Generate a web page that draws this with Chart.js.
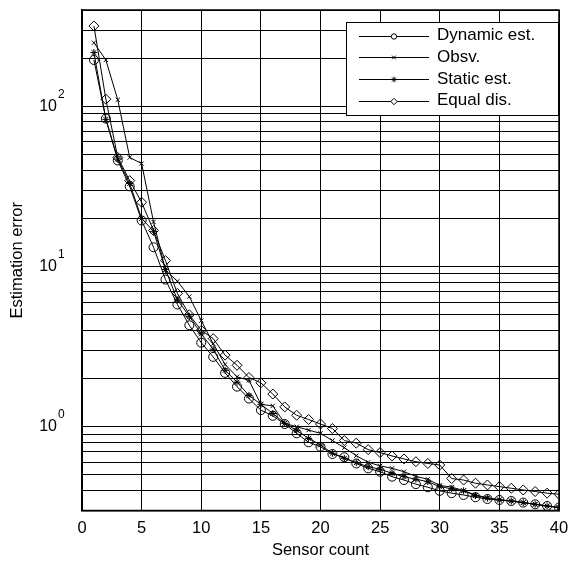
<!DOCTYPE html>
<html>
<head>
<meta charset="utf-8">
<script src="https://cdn.jsdelivr.net/npm/chart.js@4/dist/chart.umd.min.js"></script>
<style>
html, body { margin: 0; padding: 0; background: #fff; }
</style>
</head>
<body>
<canvas id="graficoError" width="569" height="562"></canvas>
<script>
const sensores = [];
for (let i = 1; i <= 40; i++) sensores.push(i);

const dinamico = [195, 84, 46, 31.7, 19.4, 13.2, 8.3, 5.8, 4.3, 3.35,
    2.73, 2.17, 1.78, 1.5, 1.27, 1.17, 1.04, 0.91, 0.8, 0.75,
    0.676, 0.645, 0.59, 0.55, 0.524, 0.488, 0.465, 0.438, 0.419, 0.398,
    0.385, 0.375, 0.363, 0.354, 0.349, 0.344, 0.336, 0.328, 0.32, 0.313];

const observado = [250, 195, 110, 48, 44, 19, 9.5, 8.1, 6.5, 4.6,
    3.3, 2.45, 2.05, 1.95, 1.38, 1.35, 1.05, 1.0, 0.953, 0.91,
    0.82, 0.74, 0.66, 0.6, 0.57, 0.55, 0.524, 0.49, 0.47, 0.43,
    0.42, 0.4, 0.375, 0.36, 0.35, 0.344, 0.336, 0.328, 0.32, 0.313];

const estatico = [217, 83, 47, 33, 20, 16.6, 9.6, 6.2, 4.9, 3.8,
    3.05, 2.25, 1.9, 1.57, 1.38, 1.21, 1.05, 0.95, 0.846, 0.77,
    0.683, 0.635, 0.597, 0.563, 0.543, 0.512, 0.488, 0.47, 0.454, 0.423,
    0.41, 0.398, 0.372, 0.358, 0.349, 0.344, 0.336, 0.328, 0.32, 0.313];

const equitativo = [318, 111, 48, 34.4, 25.2, 16.8, 10.9, 6.8, 5.0, 4.0,
    3.55, 2.8, 2.42, 2.03, 1.88, 1.6, 1.33, 1.18, 1.11, 1.04,
    0.975, 0.82, 0.79, 0.72, 0.69, 0.657, 0.63, 0.605, 0.59, 0.577,
    0.475, 0.465, 0.444, 0.433, 0.423, 0.413, 0.403, 0.394, 0.385, 0.379];

const etiquetas = ['Dynamic est.', 'Obsv.', 'Static est.', 'Equal dis.'];
const marcadores = ['circle', 'crossRot', 'star', 'rectRot'];
const radios = [4.5, 3, 3.5, 5];
const radiosLeyenda = [2.7, 2.6, 2.8, 3.2];

const potencias = [1, 10, 100];
const exponentes = ['0', '1', '2'];

// lineas de la grilla logaritmica: 0.3 .. 400
let grillaY = [];
[0.1, 1, 10, 100].forEach(function(base){
    for (let k = 1; k <= 9; k++) {
        let v = +(base * k).toPrecision(3);
        if (v >= 0.3 && v <= 400) grillaY.push(v);
    }
});

const fuente = "'Liberation Sans', Arial, Helvetica, sans-serif";

function armarSerie(valores, key){
    return {
        label: etiquetas[key],
        data: valores.map(function(v, i){ return {x: sensores[i], y: v}; }),
        borderColor: '#000',
        backgroundColor: 'rgba(0,0,0,0)',
        borderWidth: 1,
        pointStyle: marcadores[key],
        pointRadius: radios[key],
        pointBorderColor: '#000',
        pointBackgroundColor: 'rgba(0,0,0,0)',
        pointBorderWidth: 1,
        tension: 0
    };
}

const datasets = [
    armarSerie(dinamico, 0),
    armarSerie(observado, 1),
    armarSerie(estatico, 2),
    armarSerie(equitativo, 3)
];

// etiquetas 10^n del eje y
const etiquetasY = {
    id: 'etiquetasY',
    afterDraw(chart){
        const ctx = chart.ctx;
        const y = chart.scales.y;
        ctx.save();
        ctx.fillStyle = '#000';
        potencias.forEach(function(p, i){
            const py = y.getPixelForValue(p);
            ctx.font = '16px ' + fuente;
            ctx.textAlign = 'right';
            ctx.textBaseline = 'middle';
            ctx.fillText('10', 57, py);
            ctx.font = '12px ' + fuente;
            ctx.textAlign = 'left';
            ctx.fillText(exponentes[i], 58, py - 12);
        });
        ctx.restore();
    }
};

// marco y leyenda
const marcoLeyenda = {
    id: 'marcoLeyenda',
    afterDraw(chart){
        const ctx = chart.ctx;
        const a = chart.chartArea;
        ctx.save();
        ctx.strokeStyle = '#000';
        ctx.lineWidth = 1.5;
        ctx.strokeRect(a.left, a.top, a.right - a.left, a.bottom - a.top);

        const bx = 346, by = 22, bw = 212, bh = 93;
        ctx.fillStyle = '#fff';
        ctx.fillRect(bx, by, bw, bh);
        ctx.lineWidth = 1;
        ctx.strokeRect(bx + 0.5, by + 0.5, bw, bh);

        chart.data.datasets.forEach(function(ds, i){
            const ly = 35.5 + i * 21.7;
            ctx.strokeStyle = '#000';
            ctx.lineWidth = 1;
            ctx.beginPath();
            ctx.moveTo(359, Math.round(ly) + 0.5);
            ctx.lineTo(429, Math.round(ly) + 0.5);
            ctx.stroke();
            ctx.fillStyle = '#fff';
            Chart.helpers.drawPoint(ctx, {
                pointStyle: ds.pointStyle,
                radius: radiosLeyenda[i],
                rotation: 0,
                borderWidth: 1
            }, 394, Math.round(ly) + 0.5);
            ctx.fillStyle = '#000';
            ctx.font = '17px ' + fuente;
            ctx.textAlign = 'left';
            ctx.textBaseline = 'middle';
            ctx.fillText(ds.label, 437, ly);
        });
        ctx.restore();
    }
};

new Chart(document.getElementById('graficoError'), {
    type: 'line',
    data: { datasets: datasets },
    plugins: [etiquetasY, marcoLeyenda],
    options: {
        responsive: false,
        animation: false,
        devicePixelRatio: 1,
        layout: { padding: { top: 10, right: 10, left: 0, bottom: 0 } },
        plugins: {
            legend: { display: false },
            tooltip: { enabled: false }
        },
        scales: {
            x: {
                type: 'linear',
                min: 0,
                max: 40,
                ticks: {
                    stepSize: 5,
                    color: '#000',
                    padding: 0,
                    maxRotation: 0,
                    font: { family: fuente, size: 16.5 }
                },
                grid: { color: '#000', lineWidth: 1, drawTicks: true, tickLength: 8, tickColor: 'rgba(0,0,0,0)' },
                border: { color: '#000', width: 1.5 },
                title: {
                    display: true,
                    text: 'Sensor count',
                    color: '#000',
                    font: { family: fuente, size: 16.5 },
                    padding: { top: 0, bottom: 2 }
                },
                afterFit: function(scale){ scale.height = 51.5; }
            },
            y: {
                type: 'logarithmic',
                min: 0.3,
                max: 400,
                afterBuildTicks: function(scale){
                    scale.ticks = grillaY.map(function(v){ return {value: v}; });
                },
                ticks: { display: false },
                grid: { color: '#000', lineWidth: 1, drawTicks: false },
                border: { color: '#000', width: 1.5 },
                title: {
                    display: true,
                    text: 'Estimation error',
                    color: '#000',
                    font: { family: fuente, size: 16.5 },
                    padding: { top: 8, bottom: 0 }
                },
                afterFit: function(scale){ scale.width = 82; }
            }
        }
    }
});
</script>
</body>
</html>
